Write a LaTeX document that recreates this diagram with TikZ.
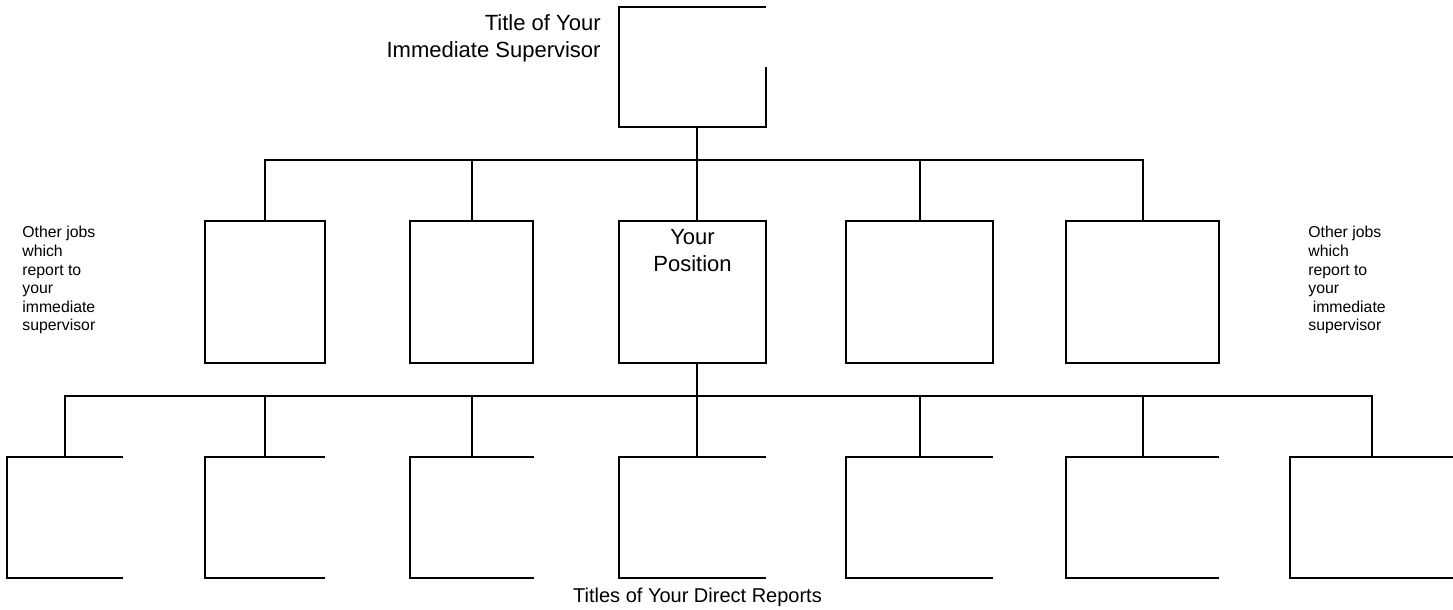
\documentclass[tikz,border=0pt]{standalone}
\usepackage{fontspec}
\setmainfont{Liberation Sans}
\usetikzlibrary{positioning}

\begin{document}
\begin{tikzpicture}[
    x=0.5pt, y=-0.5pt,
    box/.style={rectangle, draw, line width=1pt, inner sep=0pt, minimum height=71pt},
    openbox/.style={rectangle, inner sep=0pt, minimum height=60.5pt},
    link/.style={line width=1pt},
    title/.style={font=\fontsize{11}{13.5}\selectfont, inner sep=0pt},
    note/.style={font=\fontsize{7.9}{9.3}\selectfont, align=left, anchor=north west, inner sep=0pt}
]
    \useasboundingbox (0,0) rectangle (1453,610);

    % Supervisor
    \node[openbox, minimum width=73.5pt, minimum height=60pt] (sup) at (692.5,67) {};
    \draw[link] (sup.east) -- (sup.south east) -- (sup.south west) -- (sup.north west) -- (sup.north east);
    \node[title, align=right, anchor=north east] (suptitle) at (601,14) {Title of Your\\Immediate Supervisor};

    % Jobs reporting to the supervisor
    \node[box, minimum width=60pt] (peer1) at (265,292) {};
    \node[box, minimum width=61.5pt] (peer2) at (471.5,292) {};
    \node[box, minimum width=73.5pt] (pos) at (692.5,292) {};
    \node[box, minimum width=73.5pt] (peer4) at (919.5,292) {};
    \node[box, minimum width=76.5pt] (peer5) at (1142.5,292) {};
    \node[title, align=center, below=4.5pt of pos.north] (postitle) {Your\\Position};

    \node[note] (leftnote) at (22,226) {Other jobs\\which\\report to\\your\\immediate\\supervisor};
    \node[note] (rightnote) at (1308,226) {Other jobs\\which\\report to\\your\\\hspace*{2.2pt}immediate\\supervisor};

    % Direct reports
    \foreach \n/\cx/\w in {rep1/65/58, rep2/265/60, rep3/472/62, rep4/692.5/73.5, rep5/919.5/73.5, rep6/1142.5/76.5, rep7/1371.5/81.5} {
        \node[openbox, minimum width=\w pt] (\n) at (\cx,517.5) {};
        \draw[link] (\n.north east) -- (\n.north west) -- (\n.south west) -- (\n.south east);
    }
    \node[title, font=\fontsize{10}{12}\selectfont, anchor=base] (reptitle) at (697.5,602) {Titles of Your Direct Reports};

    % Connectors
    \coordinate (spine) at (697,0);
    \coordinate (bus1) at (0,160);
    \coordinate (bus2) at (0,396);
    \draw[link] (sup.south -| spine) -- (spine |- bus1);
    \draw[link] (peer1.north) -- (peer1.north |- bus1) -- (peer5.north |- bus1) -- (peer5.north);
    \foreach \n in {peer2, peer4}
        \draw[link] (\n.north) -- (\n.north |- bus1);
    \draw[link] (pos.north -| spine) -- (spine |- bus1);
    \draw[link] (pos.south -| spine) -- (spine |- bus2);
    \draw[link] (rep1.north) -- (rep1.north |- bus2) -- (rep7.north |- bus2) -- (rep7.north);
    \foreach \n in {rep2, rep3, rep5, rep6}
        \draw[link] (\n.north) -- (\n.north |- bus2);
    \draw[link] (rep4.north -| spine) -- (spine |- bus2);
\end{tikzpicture}
\end{document}
